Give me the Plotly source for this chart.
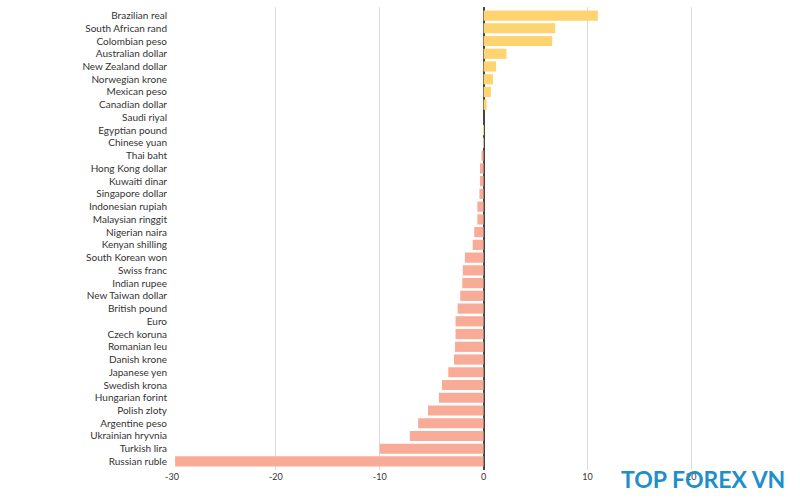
import plotly.graph_objects as go

currencies = [
    "Brazilian real", "South African rand", "Colombian peso", "Australian dollar",
    "New Zealand dollar", "Norwegian krone", "Mexican peso", "Canadian dollar",
    "Saudi riyal", "Egyptian pound", "Chinese yuan", "Thai baht",
    "Hong Kong dollar", "Kuwaiti dinar", "Singapore dollar", "Indonesian rupiah",
    "Malaysian ringgit", "Nigerian naira", "Kenyan shilling", "South Korean won",
    "Swiss franc", "Indian rupee", "New Taiwan dollar", "British pound",
    "Euro", "Czech koruna", "Romanian leu", "Danish krone",
    "Japanese yen", "Swedish krona", "Hungarian forint", "Polish zloty",
    "Argentine peso", "Ukrainian hryvnia", "Turkish lira", "Russian ruble",
]
change_pct = [
    11.0, 6.9, 6.6, 2.2,
    1.2, 0.9, 0.7, 0.3,
    0.0, 0.03, -0.05, -0.2,
    -0.35, -0.35, -0.4, -0.6,
    -0.6, -0.9, -1.05, -1.8,
    -2.0, -2.05, -2.25, -2.5,
    -2.7, -2.7, -2.75, -2.85,
    -3.4, -4.0, -4.3, -5.35,
    -6.3, -7.1, -10.0, -29.7,
]
tick_vals = [-30, -20, -10, 0, 10, 20]

POS = "#FFD370"
NEG = "#F8AB96"
colors = [POS if v >= 0 else NEG for v in change_pct]

fig = go.Figure(go.Bar(
    x=change_pct, y=currencies, orientation="h",
    marker=dict(color=colors, line=dict(width=0)),
    hoverinfo="x+y",
))

fig.update_layout(
    width=800, height=500,
    margin=dict(l=172, r=10, t=7, b=30),
    paper_bgcolor="white", plot_bgcolor="white",
    bargap=0.2,
    showlegend=False,
    font=dict(family="Lato, Open Sans, sans-serif", size=10, color="#333333"),
    xaxis=dict(
        range=[-30, 29.5], tickmode="array", tickvals=tick_vals,
        ticktext=[str(v) for v in tick_vals],
        showgrid=True, gridcolor="#dcdcdc", gridwidth=1,
        zeroline=True, zerolinecolor="#444444", zerolinewidth=2,
        showline=False, ticks="", tickfont=dict(size=9, color="#333333"),
        fixedrange=True,
    ),
    yaxis=dict(
        range=[35.67, -0.67], showgrid=False, zeroline=False, ticks="",
        tickfont=dict(size=10, color="#333333"), ticklabelstandoff=4,
        fixedrange=True,
    ),
    annotations=[dict(
        text="<b>TOP FOREX VN</b>", xref="paper", yref="paper",
        x=0.995, y=-0.02, xanchor="right", yanchor="middle", showarrow=False,
        font=dict(family="Lato, sans-serif", size=23, color="#1E8FCB"),
        bgcolor="rgba(255,255,255,0)",
    )],
)

fig.write_html("out.html")
